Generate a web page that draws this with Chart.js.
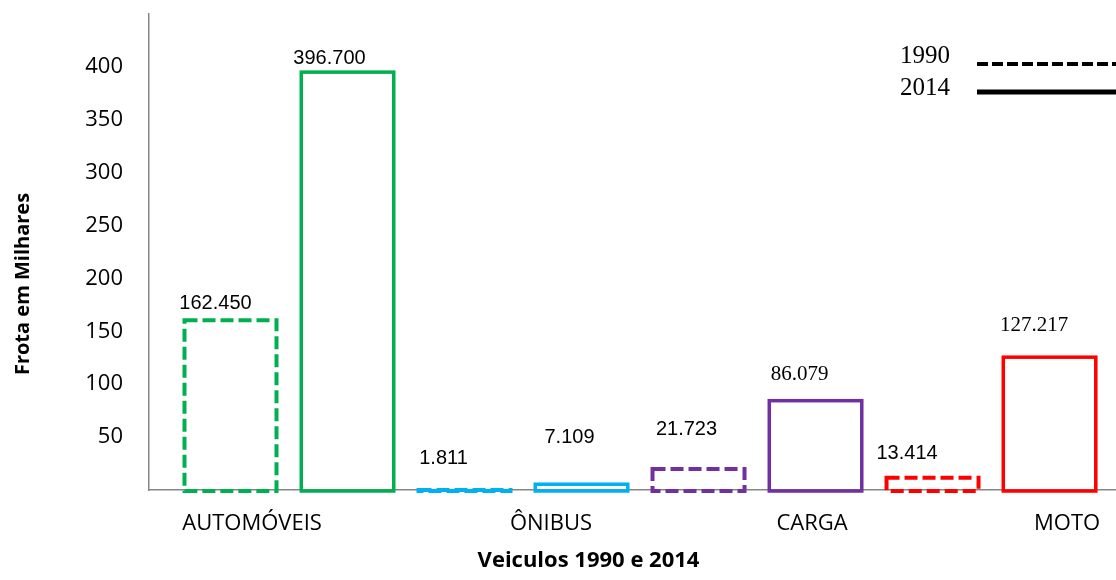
<!DOCTYPE html>
<html>
<head>
<meta charset="utf-8">
<script src="https://cdn.jsdelivr.net/npm/chart.js@4.4.1/dist/chart.umd.min.js"></script>
<style>
  html, body { margin: 0; background: #fff; }
  #wrap { width: 1116px; height: 580px; }
</style>
</head>
<body>
<div id="wrap"><canvas id="chart"></canvas></div>
<script>
// fleet in thousands of vehicles
const categories = ['AUTOMÓVEIS', 'ÔNIBUS', 'CARGA', 'MOTO'];
const years = ['1990', '2014'];
const fleet1990 = [162.450, 1.811, 21.723, 13.414];
const fleet2014 = [396.700, 7.109, 86.079, 127.217];
const yTicks = [50, 100, 150, 200, 250, 300, 350, 400];
const colors = ['#00B050', '#00B0F0', '#7030A0', '#FF0000'];

// where the category names sit on the x axis (bar slots are 1..8)
const categoryTickAt = [1.184, 3.739, 5.970, 8.150];
// value labels are not centred over the bars in the original
const nudge1990 = [[-15, -15], [-21, -30], [-12, -38], [-25.5, -22]];
const nudge2014 = [[-18, -12], [-12, -45], [-16, -24.5], [-15.5, -30]];
const serif2014 = [false, false, true, true];

const GRAY = '#868686';

function slots(values, year) {
  return values.map((v, i) => ({ x: 2 * i + 1 + year, y: v }));
}

const outlinePlugin = {
  id: 'outlines',
  afterDatasetsDraw(chart) {
    const ctx = chart.ctx;
    chart.data.datasets.forEach((ds, di) => {
      const meta = chart.getDatasetMeta(di);
      const dashed = di === 0;
      const lw = dashed ? 4 : 3.5;
      meta.data.forEach((el, i) => {
        const p = el.getProps(['x', 'y', 'base', 'width'], true);
        ctx.save();
        ctx.strokeStyle = colors[i];
        ctx.lineWidth = lw;
        ctx.setLineDash(dashed ? [13, 5] : []);
        ctx.strokeRect(p.x - p.width / 2 + lw / 2, p.y + lw / 2,
                       p.width - lw, p.base - p.y - lw / 2 + 1);
        ctx.restore();

        const n = dashed ? nudge1990[i] : nudge2014[i];
        const serif = !dashed && serif2014[i];
        ctx.save();
        ctx.fillStyle = '#000';
        ctx.textAlign = 'center';
        ctx.textBaseline = 'middle';
        ctx.font = serif ? '21px "Liberation Serif"' : '20px "Liberation Sans"';
        ctx.fillText(ds.data[i].y.toFixed(3), p.x + n[0], p.y + n[1]);
        ctx.restore();
      });
    });
  },
  afterDraw(chart) {
    const ctx = chart.ctx;
    const a = chart.chartArea;
    ctx.save();
    // legend
    ctx.fillStyle = '#000';
    ctx.font = '25px "Liberation Serif"';
    ctx.textAlign = 'left';
    ctx.textBaseline = 'alphabetic';
    ctx.fillText(years[0], 900, 63);
    ctx.fillText(years[1], 900, 95);
    ctx.strokeStyle = '#000';
    ctx.lineWidth = 4;
    ctx.setLineDash([11, 4]);
    ctx.beginPath(); ctx.moveTo(977, 64); ctx.lineTo(a.right + 10, 64); ctx.stroke();
    ctx.lineWidth = 5;
    ctx.setLineDash([]);
    ctx.beginPath(); ctx.moveTo(977, 92); ctx.lineTo(a.right + 10, 92); ctx.stroke();

    // axis titles
    ctx.textAlign = 'center';
    ctx.textBaseline = 'middle';
    ctx.font = 'bold 22px "Open Sans"';
    ctx.fillText('Veiculos 1990 e 2014', a.left + 439.5, 561);
    ctx.translate(23, 284);
    ctx.rotate(-Math.PI / 2);
    ctx.font = 'bold 20px "Open Sans"';
    ctx.fillText('Frota em Milhares', 0, 0);
    ctx.restore();
  }
};

new Chart(document.getElementById('chart'), {
  type: 'bar',
  data: {
    datasets: [
      { label: years[0], data: slots(fleet1990, 0), backgroundColor: 'rgba(0,0,0,0)', borderColor: colors, borderWidth: 0 },
      { label: years[1], data: slots(fleet2014, 1), backgroundColor: 'rgba(0,0,0,0)', borderColor: colors, borderWidth: 0 }
    ]
  },
  options: {
    responsive: true,
    maintainAspectRatio: false,
    animation: false,
    layout: { padding: { top: 14, right: 0, bottom: 0, left: 0 } },
    datasets: {
      bar: { grouped: false, barThickness: 96 }
    },
    plugins: {
      colors: { enabled: false },
      legend: { display: false },
      tooltip: { enabled: false }
    },
    scales: {
      x: {
        type: 'linear',
        offset: false,
        min: 0.3034,
        max: 8.568,
        grid: { display: false, drawTicks: false },
        border: { color: GRAY, width: 1.5 },
        afterBuildTicks: s => { s.ticks = categoryTickAt.map(v => ({ value: v })); },
        afterFit: s => { s.height = 90; s.paddingLeft = 0; s.paddingRight = 0; },
        ticks: {
          padding: 21,
          maxRotation: 0,
          autoSkip: false,
          color: '#000',
          font: { family: '"Open Sans"', size: 22 },
          callback: (v, i) => categories[i]
        }
      },
      y: {
        min: 0,
        max: 450,
        grid: { display: false, drawTicks: false },
        border: { color: GRAY, width: 1.5 },
        afterBuildTicks: s => { s.ticks = yTicks.map(v => ({ value: v })); },
        afterFit: s => { s.width = 149; s.paddingTop = 0; s.paddingBottom = 0; },
        ticks: {
          padding: 26,
          color: '#000',
          font: { family: '"Open Sans"', size: 22 }
        }
      }
    }
  },
  plugins: [outlinePlugin]
});
</script>
</body>
</html>
